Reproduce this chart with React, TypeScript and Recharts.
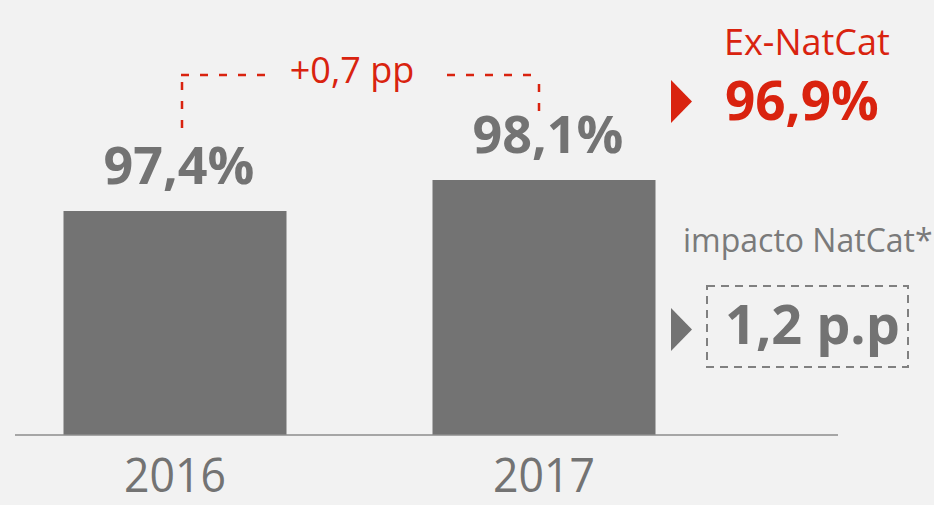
import { Bar, BarChart, LabelList, XAxis, YAxis } from "recharts";

const years = ["2016", "2017"];
const ratios = [97.4, 98.1];
const ratioLabels = ["97,4%", "98,1%"];
const changeLabel = "+0,7 pp";
const exNatCatTitle = "Ex-NatCat";
const exNatCatValue = "96,9%";
const impactTitle = "impacto NatCat*";
const impactValue = "1,2 p.p";

const data = years.map((year, i) => ({
  year,
  pos: i,
  ratio: ratios[i],
  label: ratioLabels[i],
}));

const RED = "#d9230f";
const GREY = "#737373";
const FONT = "'Open Sans', sans-serif";

function YearTick({ x, y, payload }: any) {
  return (
    <text
      x={x}
      y={y + 57}
      textAnchor="middle"
      fontFamily={FONT}
      fontSize={48}
      fill={GREY}
      textLength={102}
      lengthAdjust="spacingAndGlyphs"
    >
      {years[payload.value]}
    </text>
  );
}

function ValueLabel({ x, y, width, value }: any) {
  return (
    <text
      x={x + width / 2 + 4}
      y={y - 27}
      textAnchor="middle"
      fontFamily={FONT}
      fontWeight={700}
      fontSize={52}
      fill={GREY}
    >
      {value}
    </text>
  );
}

function Annotations() {
  return (
    <svg
      width={934}
      height={505}
      style={{ position: "absolute", left: 0, top: 0, pointerEvents: "none" }}
    >
      <g stroke={RED} strokeWidth={2.5} strokeDasharray="8 11" fill="none">
        <line x1={181} y1={75} x2={268} y2={75} />
        <line x1={182} y1={82} x2={182} y2={128} />
        <line x1={447} y1={75} x2={534} y2={75} />
        <line x1={539} y1={84} x2={539} y2={112} />
      </g>
      <text x={352} y={83} textAnchor="middle" fontFamily={FONT} fontSize={36} fill={RED}>
        {changeLabel}
      </text>

      <text x={724} y={55} fontFamily={FONT} fontSize={36} fill={RED}>
        {exNatCatTitle}
      </text>
      <polygon points="671,80 692,101.5 671,123" fill={RED} />
      <text x={725} y={120} fontFamily={FONT} fontWeight={700} fontSize={53} fill={RED}>
        {exNatCatValue}
      </text>

      <text x={683} y={252} fontFamily={FONT} fontSize={32} fill="#7a7a7a">
        {impactTitle}
      </text>
      <polygon points="671,308 692,329.5 671,351" fill={GREY} />
      <rect
        x={707}
        y={286}
        width={201}
        height={81}
        fill="none"
        stroke="#808080"
        strokeWidth={2}
        strokeDasharray="8 6"
      />
      <text x={725} y={344} fontFamily={FONT} fontWeight={700} fontSize={54} fill={GREY}>
        {impactValue}
      </text>
    </svg>
  );
}

export default function App() {
  return (
    <div
      style={{
        position: "absolute",
        left: 0,
        top: 0,
        width: 934,
        height: 505,
        background: "#f2f2f2",
        overflow: "hidden",
      }}
    >
      <BarChart
        width={934}
        height={505}
        data={data}
        margin={{ top: 0, right: 96, left: 15, bottom: 40 }}
      >
        <XAxis
          dataKey="pos"
          type="number"
          domain={[-0.4336, 1.7967]}
          ticks={[0, 1]}
          height={30}
          tickLine={false}
          tickSize={0}
          tickMargin={0}
          axisLine={{ stroke: "#8c8c8c", strokeWidth: 1.5 }}
          tick={<YearTick />}
          allowDataOverflow
        />
        <YAxis hide domain={[92.34, 102.17]} allowDataOverflow />
        <Bar dataKey="ratio" fill={GREY} barSize={223} isAnimationActive={false}>
          <LabelList dataKey="label" content={<ValueLabel />} />
        </Bar>
      </BarChart>
      <Annotations />
    </div>
  );
}
